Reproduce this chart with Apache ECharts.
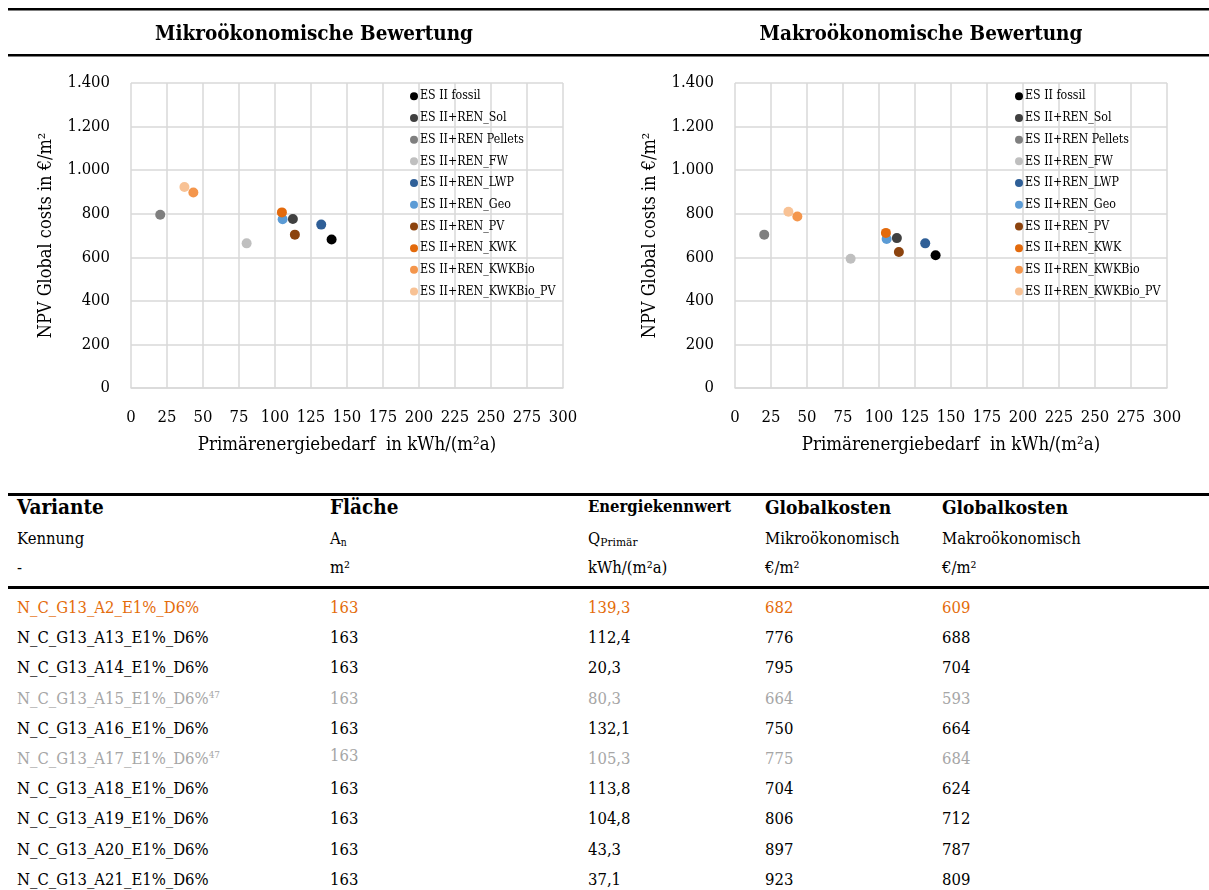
<!DOCTYPE html>
<html><head><meta charset="utf-8">
<script src="https://cdn.jsdelivr.net/npm/echarts@6/dist/echarts.min.js"></script>
<style>
html,body{margin:0;padding:0;background:#fff;}
#wrap{position:relative;width:1209px;height:890px;overflow:hidden;font-family:"DejaVu Serif Condensed","DejaVu Serif","Liberation Serif",serif;color:#000;}
#chart{position:absolute;left:0;top:0;width:1209px;height:480px;}
.t{position:absolute;white-space:nowrap;line-height:22px;font-size:16.5px;}
.b{font-weight:bold;font-size:19px;}
.hl{position:absolute;left:8px;width:1201px;background:#000;}
sub{font-size:0.62em;vertical-align:-0.15em;}
sup{font-size:0.6em;vertical-align:0.6em;line-height:0;}
</style></head>
<body><div id="wrap"><div id="chart"></div><div id="table"></div></div>
<script>
// ---- data ----
const seriesNames = ["ES II fossil","ES II+REN_Sol","ES II+REN Pellets","ES II+REN_FW","ES II+REN_LWP","ES II+REN_Geo","ES II+REN_PV","ES II+REN_KWK","ES II+REN_KWKBio","ES II+REN_KWKBio_PV"];
const variants = ["N_C_G13_A2_E1%_D6%","N_C_G13_A13_E1%_D6%","N_C_G13_A14_E1%_D6%","N_C_G13_A15_E1%_D6%","N_C_G13_A16_E1%_D6%","N_C_G13_A17_E1%_D6%","N_C_G13_A18_E1%_D6%","N_C_G13_A19_E1%_D6%","N_C_G13_A20_E1%_D6%","N_C_G13_A21_E1%_D6%"];
const footnotes = ["","","","47","","47","","","",""];
const area = [163,163,163,163,163,163,163,163,163,163];
const primaryEnergy = [139.3,112.4,20.3,80.3,132.1,105.3,113.8,104.8,43.3,37.1];
const costsMicro = [682,776,795,664,750,775,704,806,897,923];
const costsMacro = [609,688,704,593,664,684,624,712,787,809];
const xTicks = [0,25,50,75,100,125,150,175,200,225,250,275,300];
const yTicks = [0,200,400,600,800,1000,1200,1400];
// ---- styles ----
const markerColors = ["#000000","#404040","#7f7f7f","#bfbfbf","#2f5f97","#5b9bd5","#8c430e","#e36a0c","#f4964c","#f8c295"];
const rowColors = ["#e46c0a","#000","#000","#a6a6a6","#000","#a6a6a6","#000","#000","#000","#000"];
const FONT = '"DejaVu Serif Condensed","DejaVu Serif","Liberation Serif",serif';

const chart = echarts.init(document.getElementById('chart'), null, {renderer:'canvas'});
const fmtY = v => String(v).replace(/\B(?=(\d{3})+(?!\d))/g, '.');
function axes(gi){
  return {
    x: {type:'value', gridIndex:gi, min:xTicks[0], max:xTicks[xTicks.length-1], interval:xTicks[1]-xTicks[0],
        name:'Primärenergiebedarf  in kWh/(m²a)', nameLocation:'middle', nameGap:48,
        nameTextStyle:{fontFamily:FONT, fontSize:18.5, color:'#000'},
        axisLine:{show:true, lineStyle:{color:'#d9d9d9', width:1.5}}, axisTick:{show:false},
        axisLabel:{fontFamily:FONT, fontSize:16.5, color:'#000', margin:21},
        splitLine:{show:true, lineStyle:{color:'#d9d9d9', width:1.5}}},
    y: {type:'value', gridIndex:gi, min:yTicks[0], max:yTicks[yTicks.length-1], interval:yTicks[1]-yTicks[0],
        name:'NPV Global costs in €/m²', nameLocation:'middle', nameGap:76, nameRotate:90,
        nameTextStyle:{fontFamily:FONT, fontSize:18, color:'#000'},
        axisLine:{show:false}, axisTick:{show:false},
        axisLabel:{fontFamily:FONT, fontSize:16.5, color:'#000', margin:21, formatter:fmtY},
        splitLine:{show:true, lineStyle:{color:'#d9d9d9', width:1.5}}}
  };
}
const a0 = axes(0), a1 = axes(1);
const series = [];
seriesNames.forEach((n,i)=>{
  series.push({name:n, type:'scatter', xAxisIndex:0, yAxisIndex:0, symbol:'circle', symbolSize:10,
    itemStyle:{color:markerColors[i], opacity:1}, data:[[primaryEnergy[i], costsMicro[i]]], z:3+i});
  series.push({name:n, type:'scatter', xAxisIndex:1, yAxisIndex:1, symbol:'circle', symbolSize:10,
    itemStyle:{color:markerColors[i], opacity:1}, data:[[primaryEnergy[i], costsMacro[i]]], z:3+i});
});
function legend(left){
  return {orient:'vertical', left:left, top:85, icon:'circle', itemWidth:8, itemHeight:8, itemGap:9.2,
    data:seriesNames, textStyle:{fontFamily:FONT, fontSize:12.3, color:'#000', lineHeight:12.5, padding:[0,0,0,-3]},
    selectedMode:false};
}
chart.setOption({
  animation:false,
  title:[
    {text:'Mikroökonomische Bewertung', left:309, top:19, textAlign:'center', textStyle:{fontFamily:FONT, fontSize:20.5, fontWeight:'bold', color:'#000'}},
    {text:'Makroökonomische Bewertung', left:916, top:19, textAlign:'center', textStyle:{fontFamily:FONT, fontSize:20.5, fontWeight:'bold', color:'#000'}}
  ],
  graphic:[
    {type:'rect', shape:{x:8, y:8, width:1201, height:2.5}, style:{fill:'#000'}},
    {type:'rect', shape:{x:8, y:54, width:1201, height:2.5}, style:{fill:'#000'}}
  ],
  grid:[{left:131, top:83, width:432, height:305}, {left:735, top:83, width:432, height:305}],
  xAxis:[a0.x, a1.x], yAxis:[a0.y, a1.y],
  legend:[legend(405), legend(1010)],
  series:series
});

// ---- table ----
const tbl = document.getElementById('table');
const cols = [17, 330, 588, 765, 942];
function put(x, yc, html, cls, color, extra){
  const d = document.createElement('div');
  d.className = 't' + (cls ? ' ' + cls : '');
  d.style.left = x + 'px'; d.style.top = (yc - 11) + 'px';
  if (color) d.style.color = color;
  if (extra) Object.assign(d.style, extra);
  d.innerHTML = html; tbl.appendChild(d);
}
const hdr1 = ['Variante','Fläche','Energiekennwert','Globalkosten','Globalkosten'];
const hdr2 = ['Kennung','A<sub>n</sub>','Q<sub style="font-size:0.72em">Primär</sub>','Mikroökonomisch','Makroökonomisch'];
const hdr3 = ['-','m²','kWh/(m²a)','€/m²','€/m²'];
hdr1.forEach((h,i)=>put(cols[i], 507, h, 'b', null, i===2?{fontSize:'16.5px'}:(i<2?{fontSize:'20.5px'}:null)));
hdr2.forEach((h,i)=>put(cols[i], 539, h));
hdr3.forEach((h,i)=>put(cols[i], 568, h));
[[493,2.5],[586,2.5]].forEach(([y,h])=>{
  const l = document.createElement('div'); l.className='hl'; l.style.top=y+'px'; l.style.height=h+'px'; tbl.appendChild(l);
});
variants.forEach((v,i)=>{
  const yc = 608 + i*30.2;
  const c = rowColors[i];
  put(cols[0], yc, v + (footnotes[i] ? '<sup>'+footnotes[i]+'</sup>' : ''), null, c);
  put(cols[1], yc - (footnotes[i] && i===5 ? 3 : 0), String(area[i]), null, c);
  put(cols[2], yc, primaryEnergy[i].toFixed(1).replace('.', ','), null, c);
  put(cols[3], yc, String(costsMicro[i]), null, c);
  put(cols[4], yc, String(costsMacro[i]), null, c);
});
</script></body></html>
